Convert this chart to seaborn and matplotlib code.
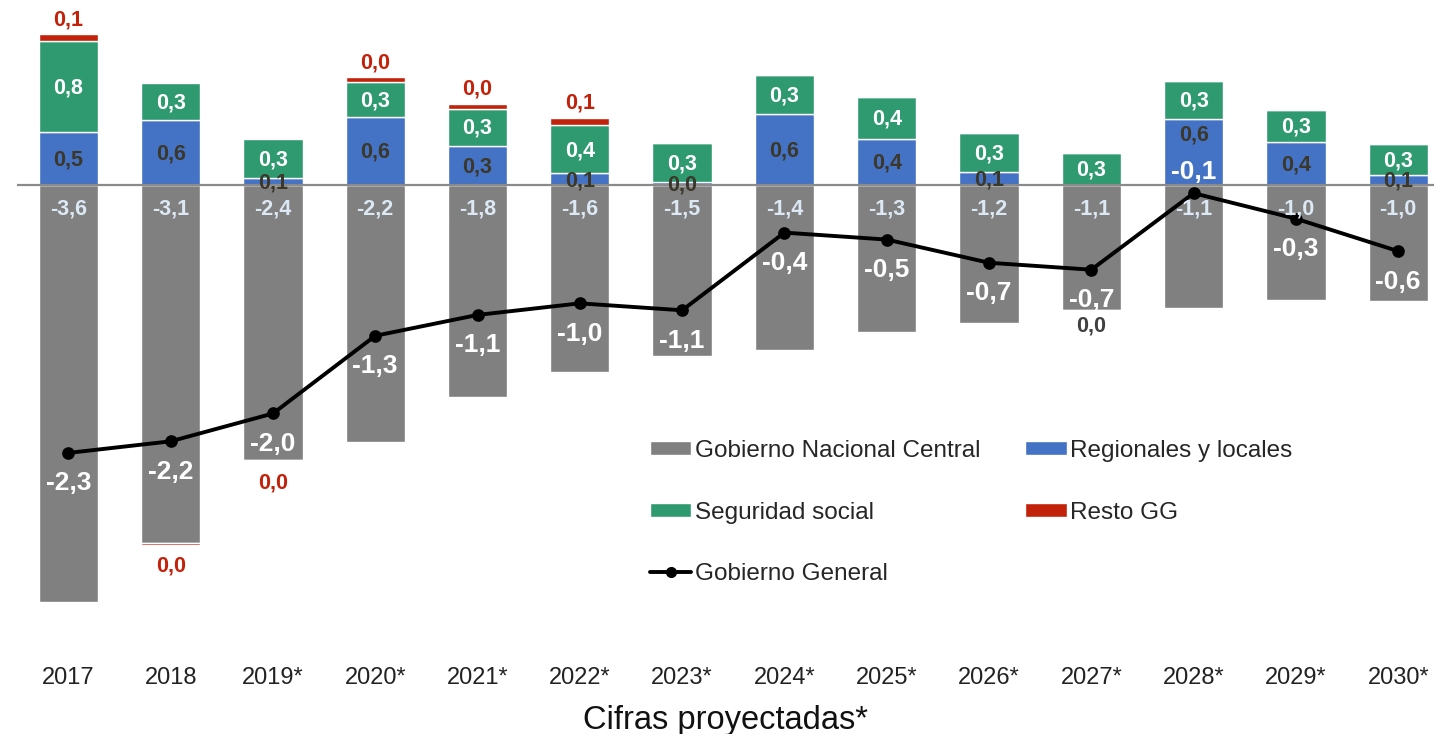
import numpy as np
import pandas as pd
import matplotlib.pyplot as plt
import seaborn as sns
from matplotlib.patches import Patch
from matplotlib.lines import Line2D

# datos (% del PIB)
years = ['2017', '2018', '2019*', '2020*', '2021*', '2022*', '2023*',
         '2024*', '2025*', '2026*', '2027*', '2028*', '2029*', '2030*']
gnc = [-3.60, -3.09, -2.37, -2.22, -1.83, -1.61, -1.47,
       -1.42, -1.27, -1.19, -1.08, -1.06, -0.99, -1.00]
regionales = [0.46, 0.56, 0.06, 0.59, 0.34, 0.10, 0.03,
              0.61, 0.40, 0.11, -0.01, 0.57, 0.37, 0.09]
seguridad = [0.78, 0.32, 0.34, 0.30, 0.32, 0.42, 0.33,
             0.34, 0.36, 0.34, 0.28, 0.33, 0.28, 0.26]
resto = [0.06, -0.01, -0.01, 0.04, 0.04, 0.06, 0.0,
         0.0, 0.0, 0.0, 0.0, 0.0, 0.0, 0.0]
gobierno_general = [-2.31, -2.21, -1.97, -1.30, -1.12, -1.02, -1.08,
                    -0.41, -0.47, -0.67, -0.73, -0.07, -0.29, -0.57]
gg_label_above = ['2028*']
label_nudge = {'2028*': 13}  # etiqueta regional desplazada (pt)

C_GNC, C_REG, C_SEG, C_RES = '#808080', '#4472c4', '#2f9a70', '#c2210a'


def fmt(v):
    s = f"{v:.1f}"
    if s == '-0.0':
        s = '0.0'
    return s.replace('.', ',')


sns.set_style('white')
plt.rcParams['font.family'] = ['Liberation Sans', 'DejaVu Sans']

fig = plt.figure(figsize=(14.34, 7.34), dpi=100)
ax = fig.add_axes([0.012, 0.1144, 0.988, 0.872])

n = len(years)
pos_base = np.zeros(n)
neg_base = np.zeros(n)
series = [
    ('Gobierno Nacional Central', gnc, C_GNC, '#dce9f5'),
    ('Regionales y locales', regionales, C_REG, '#3b3729'),
    ('Seguridad social', seguridad, C_SEG, 'white'),
    ('Resto GG', resto, C_RES, C_RES),
]

for name, vals, color, tcolor in series:
    v = np.array(vals)
    bottom = np.where(v >= 0, pos_base, neg_base)
    df = pd.DataFrame({'year': years, 'val': v})
    sns.barplot(data=df, x='year', y='val', order=years, bottom=bottom,
                color=color, saturation=1, width=0.58, errorbar=None,
                ax=ax, zorder=2)
    for i in range(n):
        val = v[i]
        kw = dict(textcoords='offset points', ha='center', fontsize=15.5,
                  fontweight='bold', zorder=6)
        if name == 'Gobierno Nacional Central':
            ax.annotate(fmt(val), (i, bottom[i]), xytext=(0, -17.5),
                        va='center', color=tcolor, **kw)
        elif name == 'Resto GG':
            if val == 0:
                continue
            if val > 0:
                ax.annotate(fmt(val), (i, bottom[i] + val), xytext=(0, 6.5),
                            va='baseline', color=tcolor, **kw)
            else:
                ax.annotate(fmt(val), (i, bottom[i] + val), xytext=(0, -8),
                            va='top', color=tcolor, **kw)
        else:
            if val >= 0:
                dy = -1
                if name == 'Regionales y locales':
                    dy += label_nudge.get(years[i], 0)
                ax.annotate(fmt(val), (i, bottom[i] + val / 2), xytext=(0, dy),
                            va='center', color=tcolor, **kw)
            else:
                ax.annotate(fmt(val), (i, bottom[i] + val), xytext=(0, -3),
                            va='top', color='#404040', **kw)
    pos_base = pos_base + np.where(v >= 0, v, 0)
    neg_base = neg_base + np.where(v < 0, v, 0)

ax.axhline(0, color='#8a8a8a', lw=1.6, zorder=4)

sns.pointplot(x=years, y=gobierno_general, order=years, color='black',
              markers='o', linestyles='-', errorbar=None, ax=ax,
              markersize=7, linewidth=2.8, zorder=5)
for i, (yr, val) in enumerate(zip(years, gobierno_general)):
    dy = 15 if yr in gg_label_above else -22
    ax.annotate(fmt(val), (i, val), xytext=(0, dy), textcoords='offset points',
                ha='center', va='center', fontsize=19, fontweight='bold',
                color='white', zorder=7)

ax.set_xlim(-0.5, 13.35)
ax.set_ylim(-4.01, 1.51)
ax.set_yticks([])
ax.set_ylabel('')
ax.tick_params(axis='x', length=0, pad=12, labelsize=17, labelcolor='#222222')
ax.set_xlabel('Cifras proyectadas*', fontsize=23.5, labelpad=12, color='#111111')
for s in ax.spines.values():
    s.set_visible(False)

handles = [
    Patch(facecolor=C_GNC), Patch(facecolor=C_SEG),
    Line2D([], [], color='black', lw=2.8, marker='o', markersize=7),
    Patch(facecolor=C_REG), Patch(facecolor=C_RES),
]
labels = ['Gobierno Nacional Central', 'Seguridad social', 'Gobierno General',
          'Regionales y locales', 'Resto GG']
ax.legend(handles, labels, ncol=2, loc='upper left',
          bbox_to_anchor=(650 / 1434, 1 - 440 / 734),
          bbox_transform=fig.transFigure, frameon=False, fontsize=17.5,
          handlelength=1.7, handleheight=0.5, handletextpad=0.15,
          columnspacing=1.85, labelspacing=1.63, borderpad=0, borderaxespad=0)

fig.savefig('out.png', dpi=100)
